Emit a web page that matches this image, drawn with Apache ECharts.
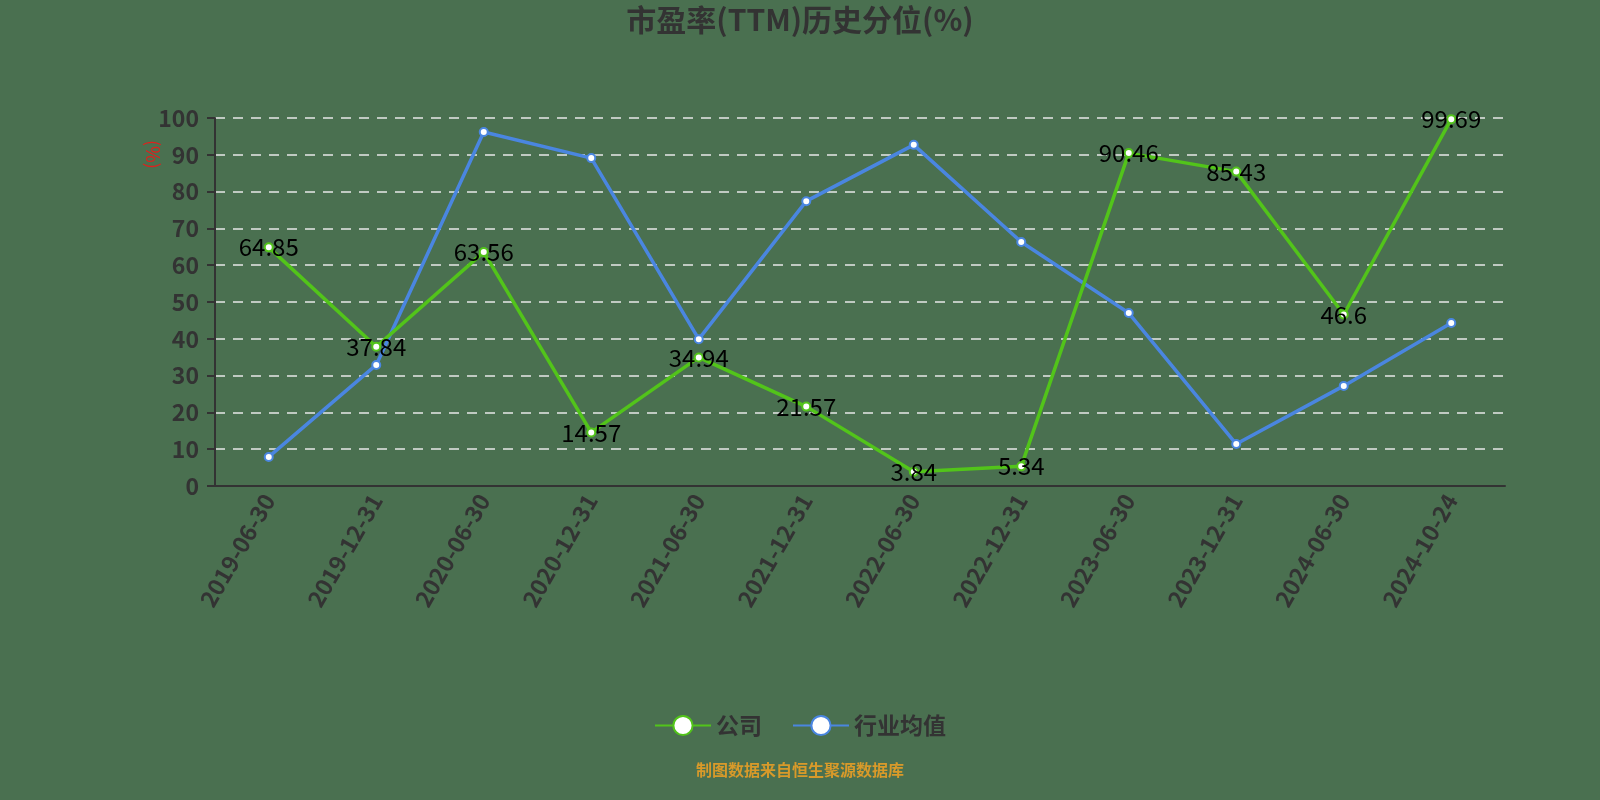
<!DOCTYPE html>
<html>
<head>
<meta charset="utf-8">
<script src="https://cdn.jsdelivr.net/npm/echarts@6/dist/echarts.min.js"></script>
<style>
html, body { margin: 0; padding: 0; }
#main { width: 1600px; height: 800px; }
</style>
</head>
<body>
<div id="main"></div>
<script>
// 日期
var dates = ['2019-06-30', '2019-12-31', '2020-06-30', '2020-12-31', '2021-06-30', '2021-12-31',
	'2022-06-30', '2022-12-31', '2023-06-30', '2023-12-31', '2024-06-30', '2024-10-24'];
// 公司
var company = [64.85, 37.84, 63.56, 14.57, 34.94, 21.57, 3.84, 5.34, 90.46, 85.43, 46.6, 99.69];
// 行业均值
var industry = [7.9, 32.9, 96.2, 89.1, 39.9, 77.4, 92.7, 66.3, 47.0, 11.4, 27.2, 44.3];

var FONT = '"Noto Sans CJK SC", sans-serif';

var myChart = echarts.init(document.getElementById('main'));
var option = {
	backgroundColor: '#4a7050',
	animation: false,
	textStyle: { fontFamily: FONT },
	title: {
		text: '市盈率(TTM)历史分位(%)',
		left: 'center',
		top: 0,
		textStyle: {
			fontSize: 30,
			fontWeight: 'bold',
			color: '#333',
			fontFamily: FONT
		}
	},
	legend: {
		bottom: 58,
		left: 'center',
		itemWidth: 56,
		itemHeight: 24,
		itemGap: 30,
		textStyle: {
			fontSize: 23,
			color: '#333',
			fontWeight: 'bold',
			fontFamily: FONT
		},
		data: ['公司', '行业均值']
	},
	grid: {
		left: 215,
		right: 95,
		top: 118,
		bottom: 314
	},
	xAxis: {
		type: 'category',
		data: dates,
		boundaryGap: true,
		axisLine: { lineStyle: { color: '#333', width: 2 } },
		axisTick: { length: 8, lineStyle: { color: '#333', width: 2 } },
		axisLabel: {
			rotate: 60,
			fontSize: 23,
			fontWeight: 'bold',
			color: '#333',
			margin: 10,
			fontFamily: FONT
		}
	},
	yAxis: {
		type: 'value',
		min: 0,
		max: 100,
		interval: 10,
		axisLine: { show: true, lineStyle: { color: '#333', width: 2 } },
		axisTick: { show: true, length: 8, lineStyle: { color: '#333', width: 2 } },
		axisLabel: { fontSize: 23, fontWeight: 'bold', color: '#333', margin: 16, fontFamily: FONT },
		splitLine: { lineStyle: { color: '#e8e8e8', type: [10, 8], width: 1.5 } }
	},
	graphic: [{
		type: 'text',
		left: 144,
		top: 140,
		rotation: -Math.PI / 2,
		style: { text: '(%)', fontSize: 18, fill: '#e0201c', fontFamily: FONT }
	}, {
		type: 'text',
		left: 'center',
		top: 762,
		style: { text: '制图数据来自恒生聚源数据库', fontSize: 16, fill: '#d89a2a', fontWeight: 'bold', fontFamily: FONT }
	}],
	series: [{
		name: '公司',
		type: 'line',
		data: company,
		symbol: 'emptyCircle',
		symbolSize: 8,
		itemStyle: { color: '#52c41a', borderWidth: 2, borderColor: '#52c41a' },
		lineStyle: { width: 3.5, color: '#52c41a' },
		label: {
			show: true,
			position: 'inside',
			fontSize: 24,
			color: '#000',
			fontFamily: FONT
		},
		z: 3
	}, {
		name: '行业均值',
		type: 'line',
		data: industry,
		symbol: 'emptyCircle',
		symbolSize: 8,
		itemStyle: { color: '#4a86e0', borderWidth: 2, borderColor: '#4a86e0' },
		lineStyle: { width: 3.5, color: '#4a86e0' },
		z: 2
	}]
};
myChart.setOption(option);
</script>
</body>
</html>
